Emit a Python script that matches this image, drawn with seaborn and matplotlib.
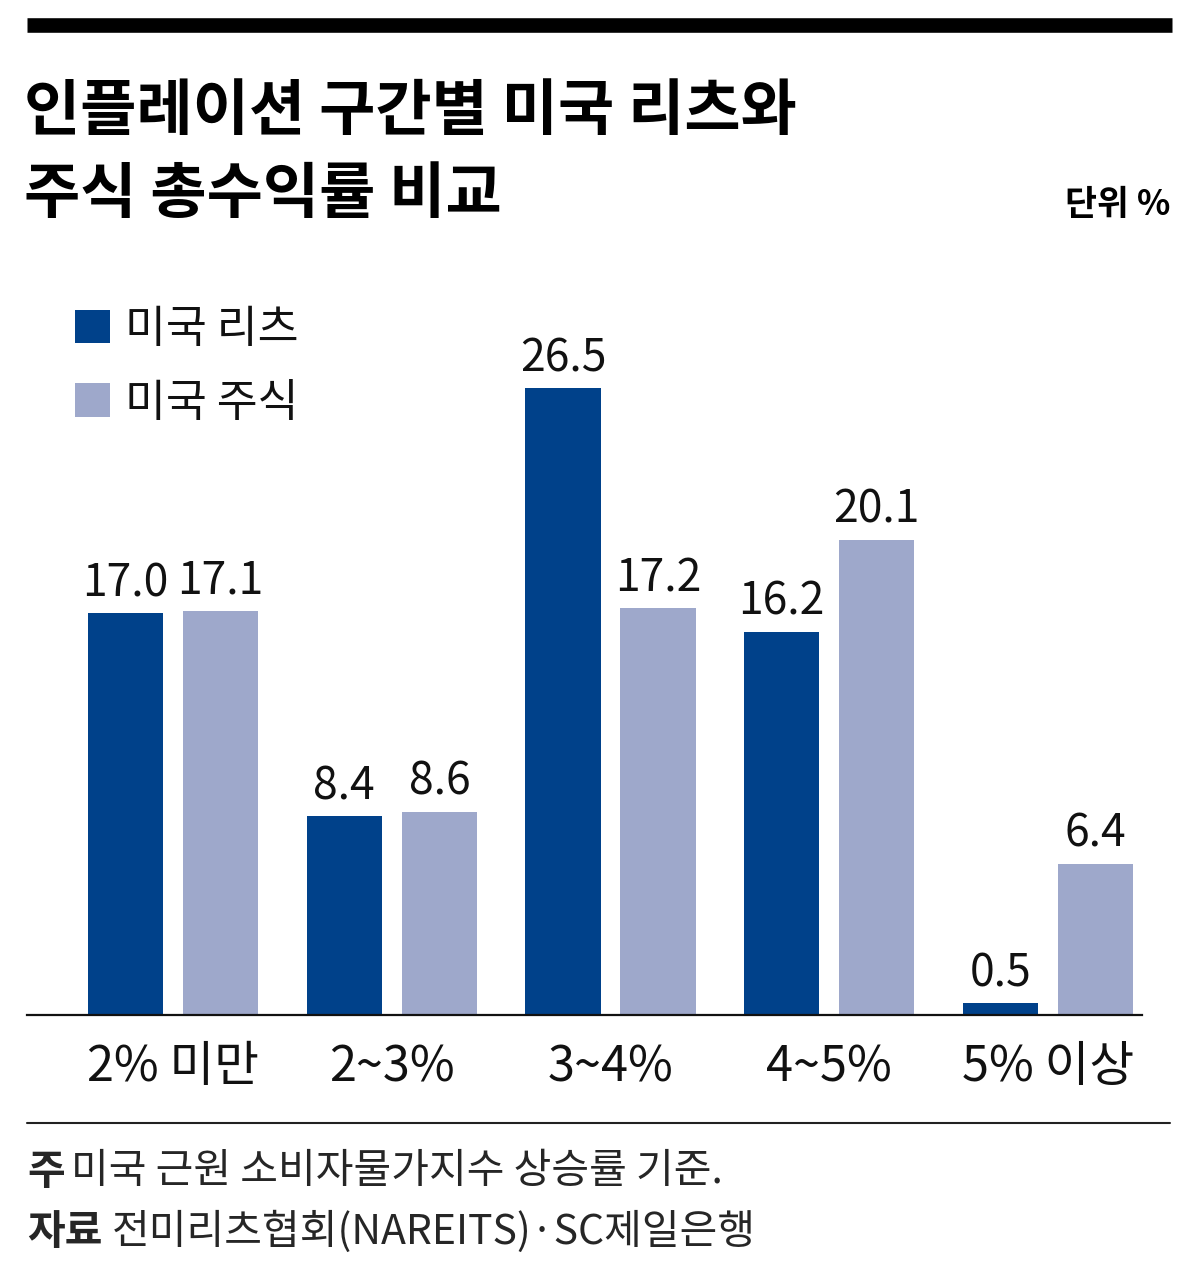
import matplotlib
matplotlib.use("Agg")
import matplotlib.pyplot as plt
import seaborn as sns
import pandas as pd
from matplotlib.lines import Line2D

categories = ["2% 미만", "2~3%", "3~4%", "4~5%", "5% 이상"]
series_names = ["미국 리츠", "미국 주식"]
reits = [17.0, 8.4, 26.5, 16.2, 0.5]
stocks = [17.1, 8.6, 17.2, 20.1, 6.4]
title_lines = ["인플레이션 구간별 미국 리츠와", "주식 총수익률 비교"]
unit_text = "단위 %"
note_head, note_body = "주", "미국 근원 소비자물가지수 상승률 기준."
src_head, src_body = "자료", "전미리츠협회(NAREITS)·SC제일은행"

colors = ["#00418A", "#9EA8CB"]

df = pd.DataFrame({
    "category": categories * 2,
    "series": [series_names[0]] * len(categories) + [series_names[1]] * len(categories),
    "value": reits + stocks,
})

sns.set_theme(style="white")
FONT = ["Noto Sans CJK KR", "DejaVu Sans"]
plt.rcParams["font.family"] = FONT

W, H = 1200, 1274
fig = plt.figure(figsize=(W / 100, H / 100), dpi=100)

def fx(x):
    return x / W

def fy(y):
    return 1 - y / H

ax_top, ax_bottom = 300, 1015
ax_left, ax_right = 27, 1142
ax = fig.add_axes([fx(ax_left), fy(ax_bottom), fx(ax_right - ax_left), (ax_bottom - ax_top) / H])

sns.barplot(data=df, x="category", y="value", hue="series", palette=colors,
            width=0.87, gap=0.21, saturation=1, ax=ax, legend=True, edgecolor="none")

ppu = 218.75
ax.set_xlim((ax_left - 173) / ppu, (ax_right - 173) / ppu)
ax.set_ylim(0, (ax_bottom - ax_top) / 23.65)

for cont in ax.containers:
    ax.bar_label(cont, fmt="%.1f", padding=5, fontsize=32, fontweight="light",
                 color="#111111", family=FONT)

ax.set_xlabel("")
ax.set_ylabel("")
ax.set_yticks([])
for s in ["top", "left", "right"]:
    ax.spines[s].set_visible(False)
ax.spines["bottom"].set_color("#111111")
ax.spines["bottom"].set_linewidth(1.6)
ax.tick_params(axis="x", length=0, pad=20, labelsize=35, labelcolor="#111111")
for lab in ax.get_xticklabels():
    lab.set_fontweight("light")

handles, labels = ax.get_legend_handles_labels()
ax.get_legend().remove()
leg = fig.legend(handles, labels, loc="upper left",
                 bbox_to_anchor=(fx(75), fy(306)), frameon=False,
                 fontsize=32, handlelength=0.78, handleheight=0.78,
                 handletextpad=0.35, labelspacing=0.62, borderaxespad=0, borderpad=0)
for t in leg.get_texts():
    t.set_fontweight("light")
    t.set_color("#111111")

# top thick bar
fig.add_artist(Line2D([fx(27), fx(1172)], [fy(25), fy(25)], color="black", linewidth=10.5,
                      solid_capstyle="butt"))
# title
fig.text(fx(24), fy(112), title_lines[0], fontsize=44, fontweight="black", va="center", ha="left",
         color="black")
fig.text(fx(24), fy(195), title_lines[1], fontsize=44, fontweight="black", va="center", ha="left",
         color="black")
fig.text(fx(1170), fy(205), unit_text, fontsize=25, fontweight="bold", va="center", ha="right",
         color="black")

# bottom separator
fig.add_artist(Line2D([fx(27), fx(1170)], [fy(1123), fy(1123)], color="#222222", linewidth=1.5))

fig.text(fx(27), fy(1172), note_head, fontsize=29.5, fontweight="bold", va="center", ha="left")
fig.text(fx(71), fy(1172), note_body, fontsize=29.5, fontweight="light", va="center", ha="left")
fig.text(fx(27), fy(1232), src_head, fontsize=29.5, fontweight="bold", va="center", ha="left")
fig.text(fx(112), fy(1232), src_body, fontsize=29.5, fontweight="light", va="center", ha="left")

fig.savefig("out.png", dpi=100, facecolor="white")
